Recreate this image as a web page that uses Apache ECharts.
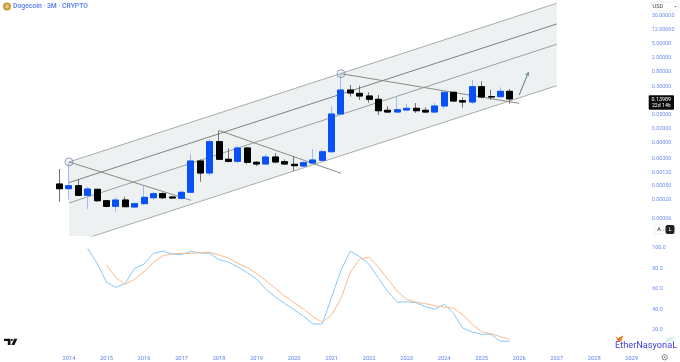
<!DOCTYPE html>
<html><head><meta charset="utf-8">
<style>html,body{margin:0;padding:0;background:#fff}#c{width:680px;height:362px}</style>
<script src="https://cdn.jsdelivr.net/npm/echarts@6/dist/echarts.min.js"></script>
</head><body><div id="c"></div>
<script>
const firstYear = 2013, quarterCount = 63;
const opens = [.000564,.000416,.000505,.000271,.0004,.000191,.000133,.0002,.000127,.000158,.000232,.000301,.000243,.000224,.00033,.002503,.00115,.00874,.0028,.00245,.00581,.0023,.00206,.00324,.00239,.00202,.00181,.0022,.00262,.00456,.0525,.2485,.2,.1685,.136,.0667,.0597,.068,.0759,.0667,.0597,.0881,.214,.1245,.114,.308,.1625,.161,.228];
const closes = [.000416,.000505,.000271,.000408,.000191,.000133,.0002,.00013,.000158,.000238,.000301,.000232,.000228,.00033,.002503,.00115,.00874,.0028,.00245,.00581,.0023,.00206,.00324,.00235,.00206,.00185,.00225,.00267,.00456,.0525,.2485,.2045,.1685,.136,.065,.0597,.0694,.0759,.065,.0597,.0881,.214,.122,.114,.308,.158,.158,.228,.13989];
const lows = [.000179,.000206,.000259,.000112,.000179,.000125,.000094,.000125,.000121,.000142,.0002,.000213,.000213,.0002,.000322,.000654,.000965,.00267,.0023,.00215,.00202,.00181,.00196,.00215,.00193,.00131,.00173,.00215,.0025,.00448,.0502,.161,.13,.1092,.0492,.056,.056,.0637,.056,.0567,.0585,.074,.1165,.079,.1,.145,.13,.155,.1023];
const highs = [.001491,.002346,.00078,.000473,.0004,.000195,.000238,.000248,.000168,.000495,.000343,.00033,.000259,.000365,.00394,.0028,.0104,.0178,.00569,.00674,.00607,.00245,.00394,.00412,.0028,.00346,.00245,.00544,.00544,.0881,.701,.343,.328,.214,.18,.0865,.161,.1,.107,.081,.107,.2225,.2225,.155,.475,.436,.2535,.296,.265];
const stochK = [null,null,null,99.7,85,66.8,61.6,65.5,80.2,84.4,94.8,97,94.1,93.5,96.8,95.1,94.8,88.6,86.3,81.5,75.9,69.8,59.7,52.2,46,39.8,33.4,25.9,25.9,51.9,78.5,97,91.5,84.1,70.4,57.4,47,47.6,46.6,42.8,40.2,45.1,36.3,21.7,18,15.8,15.8,9,9];
const stochD = [null,null,null,null,null,83.4,71,64.6,69.5,76.9,86,92.2,94.4,94.8,94.8,95.4,95.8,93.2,90.2,85,80.8,75.3,68.1,60.7,53.2,46.6,40.5,33,27.8,34.6,50.9,76.3,89.3,91,81.2,69.5,58,50,47,45.7,43.7,42.4,41.2,34.6,25.6,18.3,16.4,13.5,10.9];
const priceTicks = [30,12,5,2,.8,.3,.05,.02,.008,.003,.0012,.0005,.0002,.00006];
const oscTicks = [20,40,60,80,100];
const channelTop = [[1,.002346],[53,68.3]];
const channelUpper = [[1,.000618],[53,17.9]];
const channelLower = [[1,.000165],[53,4.8]];
const channelBottom = [[1,.0000116],[53,.328]];
const fork1 = [[1,.002346],[14,.000197]];
const fork2 = [[17,.0181],[30,.00113]];
const fork3 = [[30,.715],[49,.105]];
const pivots = [[1,.002346],[30,.715]];
const arrowLine = [[49,.18],[50,.798]];

const categories = [];
for (let i = 0; i < quarterCount; i++) {
  const q = i + 3; // first bar is Q4 of firstYear
  categories.push((firstYear + Math.floor(q / 4)) + ' Q' + (q % 4 + 1));
}
const BLUE = '#0a50f7', BLACK = '#000';
const full = opens.map((o, i) => [o, closes[i], lows[i], highs[i]]);
const bodies = opens.map((o, i) => [o, closes[i], Math.min(o, closes[i]), Math.max(o, closes[i])]);
const lineS = (data, color, width) => ({type:'line',xAxisIndex:0,yAxisIndex:0,data,symbol:'none',z:3,silent:true,
  lineStyle:{color,width},clip:true});
const tickColor = '#6a8ff5', font = 'Roboto, "Liberation Sans", sans-serif';

const chart = echarts.init(document.getElementById('c'), null, {renderer:'canvas'});
chart.setOption({
  animation:false, backgroundColor:'#fff',
  grid:[
    {left:54.9,width:590.9,top:0,height:236},
    {left:54.9,width:590.9,top:248,height:102.5}
  ],
  xAxis:[
    {type:'category',gridIndex:0,data:categories,show:false},
    {type:'category',gridIndex:1,data:categories,axisLine:{show:false},axisTick:{show:false},splitLine:{show:false},
     axisLabel:{interval:(i,v)=>v.endsWith('Q1'),formatter:v=>v.slice(0,4),color:'#5f82f0',fontSize:5.7,fontFamily:font,margin:5.5,hideOverlap:false}}
  ],
  yAxis:[
    {type:'log',logBase:10,gridIndex:0,position:'right',min:0.00001945,max:84.5,axisLine:{show:false},axisTick:{show:false},splitLine:{show:false},minorTick:{show:false},minorSplitLine:{show:false},
     axisLabel:{customValues:priceTicks,formatter:v=>Number(v).toFixed(5),color:tickColor,fontSize:5.4,fontFamily:font,margin:6,padding:[2,0,0,0],align:'left',showMinLabel:true,showMaxLabel:true}},
    {type:'value',gridIndex:1,position:'right',min:0,max:100,axisLine:{show:false},axisTick:{show:false},splitLine:{show:false},
     axisLabel:{customValues:oscTicks,formatter:v=>Number(v).toFixed(1),color:tickColor,fontSize:5.4,fontFamily:font,margin:6.5,padding:[2,0,0,0],align:'left'}}
  ],
  series:[
    {type:'custom',xAxisIndex:0,yAxisIndex:0,z:1,silent:true,clip:true,
     data:[channelTop[0],channelTop[1],channelBottom[1],channelBottom[0]],encode:{x:0,y:1},
     renderItem:(p,api)=>{
       if(p.dataIndex!==0) return null;
       const pts=[channelTop[0],channelTop[1],channelBottom[1],channelBottom[0]].map(d=>api.coord(d));
       return {type:'polygon',shape:{points:pts},style:{fill:'#edf1f1'}};
     }},
    lineS(channelTop,'#a8acac',1),
    lineS(channelUpper,'#7e8282',1),
    lineS(channelLower,'#9a9e9e',1),
    lineS(channelBottom,'#a8acac',1),
    lineS(fork1,'#8a8a8a',1),
    lineS(fork2,'#8a8a8a',1),
    lineS(fork3,'#8a8a8a',1),
    {type:'candlestick',xAxisIndex:0,yAxisIndex:0,z:4,silent:true,barWidth:6.5,data:full,
     itemStyle:{color:'#9fbaf8',color0:'#707070',borderColor:'#9fbaf8',borderColor0:'#707070',borderWidth:1}},
    {type:'candlestick',xAxisIndex:0,yAxisIndex:0,z:5,silent:true,barWidth:6.5,data:bodies,
     itemStyle:{color:BLUE,color0:BLACK,borderColor:BLUE,borderColor0:BLACK,borderWidth:1}},
    {type:'scatter',xAxisIndex:0,yAxisIndex:0,z:6,silent:true,data:pivots,symbol:'circle',symbolSize:8,
     itemStyle:{color:'rgba(170,185,225,0.18)',borderColor:'#7f8cb0',borderWidth:1}},
    {type:'line',xAxisIndex:0,yAxisIndex:0,z:6,silent:true,data:arrowLine,symbol:'none',lineStyle:{color:'#7b9696',width:1},
     markLine:{silent:true,symbol:['none','arrow'],symbolSize:4,label:{show:false},lineStyle:{color:'#7b9696',width:1,type:'solid'},
       data:[[{coord:arrowLine[0]},{coord:arrowLine[1]}]]}},
    {type:'line',xAxisIndex:1,yAxisIndex:1,data:stochK,symbol:'none',silent:true,lineStyle:{color:'#85c8fb',width:1}},
    {type:'line',xAxisIndex:1,yAxisIndex:1,data:stochD,symbol:'none',silent:true,lineStyle:{color:'#fbb98c',width:1}}
  ],
  graphic:[
    {type:'circle',shape:{cx:7,cy:6.5,r:4},style:{fill:'#c79a33'},silent:true},
    {type:'circle',shape:{cx:7,cy:6.5,r:2},style:{fill:'#e3c678'},silent:true},
    {type:'text',left:13,top:3,silent:true,style:{text:'Dogecoin · 3M · CRYPTO',fill:'#4f78f5',font:'500 6.8px '+font}},
    {type:'rect',shape:{x:651,y:2,width:27,height:9,r:1},style:{fill:'#fff',stroke:'#f0f0f0',lineWidth:1},silent:true},
    {type:'text',left:652.5,top:3.7,silent:true,style:{text:'USD',fill:'#444',font:'5.6px '+font}},
    {type:'polygon',shape:{points:[[674.5,6],[676.5,6],[675.5,7.2]]},style:{fill:'#555'},silent:true},
    {type:'rect',shape:{x:648.7,y:95.3,width:25.3,height:14.4,r:1},style:{fill:'#0b0b0b'},silent:true},
    {type:'text',x:661.3,y:99.3,silent:true,style:{text:'0.13989',fill:'#fff',align:'center',verticalAlign:'middle',font:'5.4px '+font}},
    {type:'text',x:661.3,y:105.5,silent:true,style:{text:'22d 14h',fill:'#fff',align:'center',verticalAlign:'middle',font:'5.2px '+font}},
    {type:'rect',shape:{x:654.5,y:225,width:9,height:9,r:2},style:{fill:'#fff',stroke:'#efefef',lineWidth:1},silent:true},
    {type:'text',x:659,y:229.7,silent:true,style:{text:'A',fill:'#222',align:'center',verticalAlign:'middle',font:'5.6px '+font}},
    {type:'rect',shape:{x:665.5,y:225,width:9,height:9,r:2},style:{fill:'#222'},silent:true},
    {type:'text',x:670,y:229.7,silent:true,style:{text:'L',fill:'#fff',align:'center',verticalAlign:'middle',font:'5.6px '+font}},
    {type:'polygon',shape:{points:[[4,338.8],[10.5,338.8],[10.5,345],[7.8,345],[7.8,341],[4,341]]},style:{fill:'#111'},silent:true},
    {type:'circle',shape:{cx:11.8,cy:340,r:1.1},style:{fill:'#111'},silent:true},
    {type:'polygon',shape:{points:[[14.2,338.8],[17.4,338.8],[14.4,345],[11.4,345]]},style:{fill:'#111'},silent:true},
    {type:'circle',shape:{cx:664.7,cy:357.3,r:2.6},style:{fill:'#fff',stroke:'#666',lineWidth:.8},silent:true},
    {type:'circle',shape:{cx:664.7,cy:357.3,r:.8},style:{fill:'#666'},silent:true},
    {type:'text',left:615,top:341,silent:true,style:{text:'EtherNasyonaL',fill:'#3c3fe0',font:'9.2px '+font}},
    {type:'polygon',shape:{points:[[615.5,336],[618,338.3],[621,336.5],[623.5,335.5],[622.3,338],[621.5,340.5],[619.5,342],[617.5,340.5]]},style:{fill:'#e8751f'},silent:true},
    {type:'polygon',shape:{points:[[664,342],[668,338],[675,336],[673,340],[669,342]]},style:{fill:'#d4f0f2'},silent:true}
  ]
});
</script></body></html>
